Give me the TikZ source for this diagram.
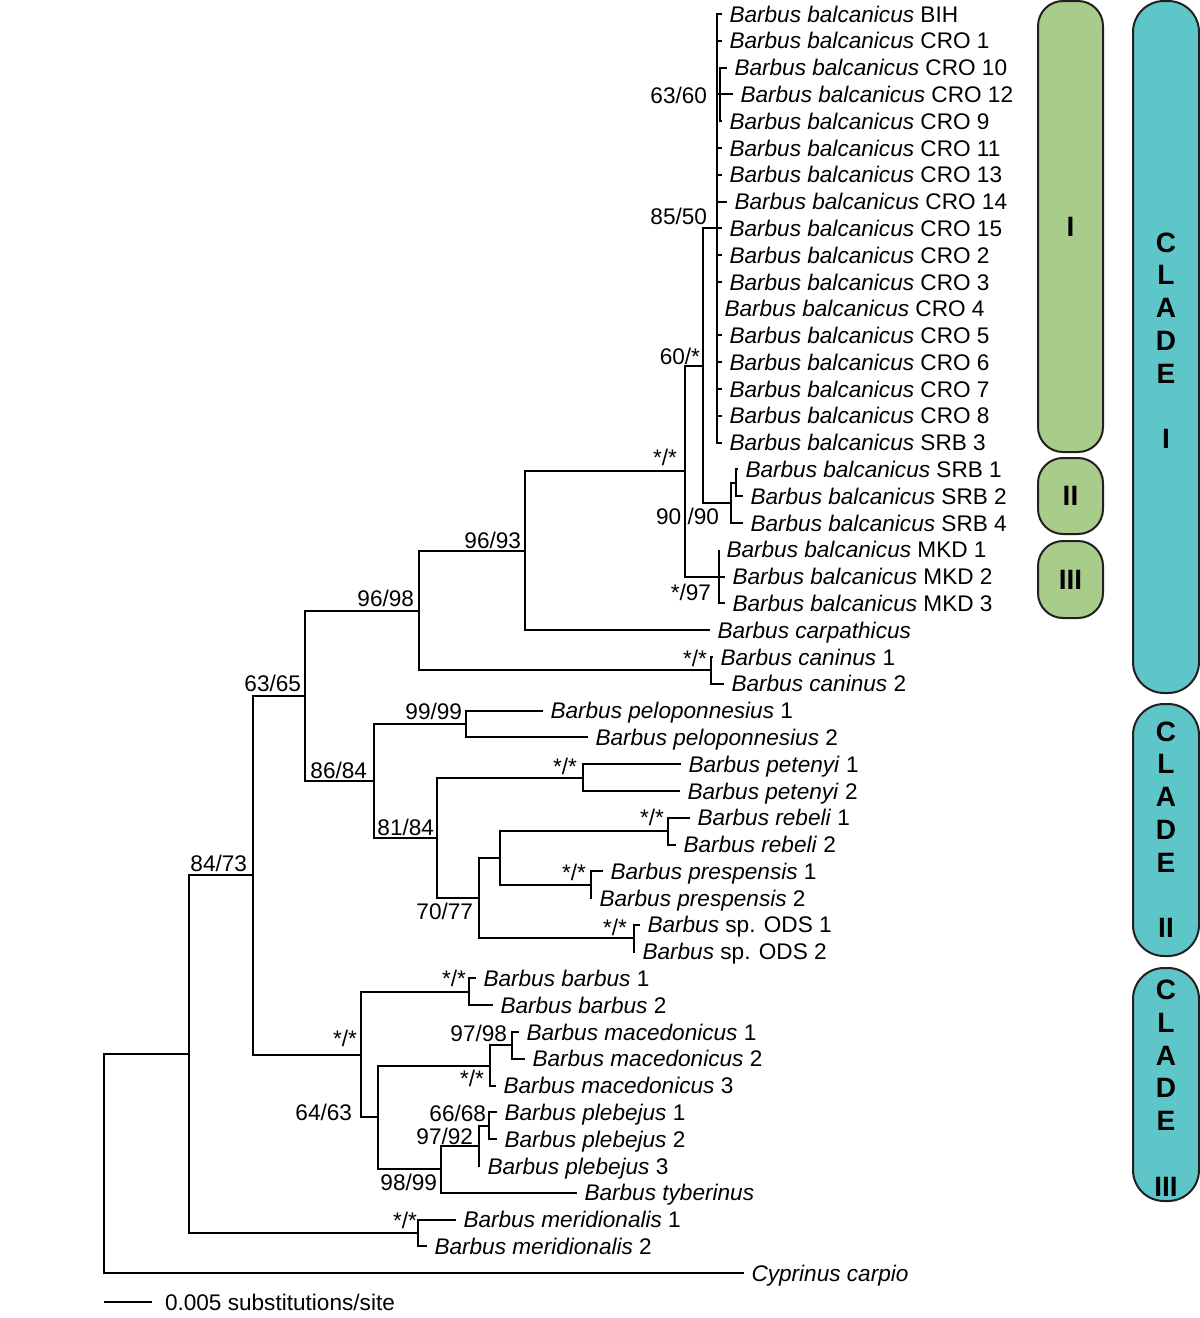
\documentclass[tikz,border=0pt]{standalone}
\usepackage{fontspec}
\setmainfont{Liberation Sans}
\usepackage{tikz}
\definecolor{subgreen}{RGB}{168,205,139}
\definecolor{cladeteal}{RGB}{94,197,200}
\definecolor{boxline}{RGB}{35,31,32}
\newcommand{\Bsp}[1]{\textit{Barbus #1}}
\tikzset{every picture/.style={line width=2pt},
leaf/.style={anchor=west,inner xsep=6.5pt,inner ysep=0pt,text height=16.2pt,text depth=0pt,font=\fontsize{22.6}{27}\selectfont},
supp/.style={anchor=east,inner sep=0pt,text height=16.2pt,text depth=0pt,font=\fontsize{22.6}{27}\selectfont},
subbox/.style={draw=boxline,fill=subgreen,rounded corners=25pt,minimum width=65pt,line width=2pt,font=\fontsize{28}{32.75}\selectfont\bfseries},
cladebox/.style={draw=boxline,fill=cladeteal,rounded corners=31pt,minimum width=66pt,line width=2pt},
cladetext/.style={align=center,inner sep=0pt,font=\fontsize{28}{32.75}\selectfont\bfseries}}

\begin{document}
\begin{tikzpicture}[x=1pt,y=-1pt]
\useasboundingbox (0,0) rectangle (1200,1318);
\foreach \i/\tx/\txt in {0/722/{\Bsp{balcanicus} BIH},1/722/{\Bsp{balcanicus} CRO 1},
2/727/{\Bsp{balcanicus} CRO 10},3/733/{\Bsp{balcanicus} CRO 12},4/722/{\Bsp{balcanicus} CRO 9},
5/722/{\Bsp{balcanicus} CRO 11},6/722/{\Bsp{balcanicus} CRO 13},7/727/{\Bsp{balcanicus} CRO 14},
8/722/{\Bsp{balcanicus} CRO 15},9/722/{\Bsp{balcanicus} CRO 2},10/722/{\Bsp{balcanicus} CRO 3},
11/717/{\Bsp{balcanicus} CRO 4},12/722/{\Bsp{balcanicus} CRO 5},13/722/{\Bsp{balcanicus} CRO 6},
14/722/{\Bsp{balcanicus} CRO 7},15/722/{\Bsp{balcanicus} CRO 8},16/722/{\Bsp{balcanicus} SRB 3},
17/738/{\Bsp{balcanicus} SRB 1},18/743/{\Bsp{balcanicus} SRB 2},19/743/{\Bsp{balcanicus} SRB 4},
20/719/{\Bsp{balcanicus} MKD 1},21/725/{\Bsp{balcanicus} MKD 2},22/725/{\Bsp{balcanicus} MKD 3},
23/710/{\Bsp{carpathicus}},24/713/{\Bsp{caninus} 1},25/724/{\Bsp{caninus} 2},
26/543/{\Bsp{peloponnesius} 1},27/588/{\Bsp{peloponnesius} 2},
28/681/{\Bsp{petenyi} 1},29/680/{\Bsp{petenyi} 2},30/690/{\Bsp{rebeli} 1},31/676/{\Bsp{rebeli} 2},
32/603/{\Bsp{prespensis} 1},33/592/{\Bsp{prespensis} 2},
34/640/{\textit{Barbus} sp. ODS 1},35/635/{\textit{Barbus} sp. ODS 2},
36/476/{\Bsp{barbus} 1},37/493/{\Bsp{barbus} 2},
38/519/{\Bsp{macedonicus} 1},39/525/{\Bsp{macedonicus} 2},40/496/{\Bsp{macedonicus} 3},
41/497/{\Bsp{plebejus} 1},42/497/{\Bsp{plebejus} 2},43/480/{\Bsp{plebejus} 3},
44/577/{\Bsp{tyberinus}},45/456/{\Bsp{meridionalis} 1},46/427/{\Bsp{meridionalis} 2},
47/744/{\textit{Cyprinus carpio}}}
\node[leaf] (l\i) at (\tx,{14+26.79*\i}) {\txt};

\coordinate (nR) at (104,1163.6);
\coordinate (nA) at (189,1054.1);
\coordinate (nB) at (253,875.15);
\coordinate (nC) at (305,695.7);
\coordinate (nE) at (419,610.5);
\coordinate (nG) at (525,550.65);
\coordinate (nH) at (685,471.1);
\coordinate (nI) at (703,365.6);
\coordinate (nBal) at (717,228.3);
\coordinate (nCRO) at (720,94.4);
\coordinate (nSRB) at (731,502.9);
\coordinate (nSRBa) at (736,482.8);
\coordinate (nMKD) at (719,576.6);
\coordinate (nCan) at (711,670.4);
\coordinate (nF) at (374,780.85);
\coordinate (nPel) at (466,723.9);
\coordinate (nJ) at (437,837.8);
\coordinate (nPet) at (583,777.5);
\coordinate (nK) at (479,898.1);
\coordinate (nL) at (500,857.9);
\coordinate (nReb) at (668,831.1);
\coordinate (nPre) at (591,884.7);
\coordinate (nODS) at (634,938.3);
\coordinate (nD) at (361,1054.6);
\coordinate (nBar) at (469,991.8);
\coordinate (nM) at (378,1117.4);
\coordinate (nMac) at (490,1065.5);
\coordinate (nMacb) at (512,1045.4);
\coordinate (nN) at (441,1169.35);
\coordinate (nPle) at (479,1145.9);
\coordinate (nPleb) at (489,1125.8);
\coordinate (nMer) at (418,1233);

\foreach \p/\c in {nR/nA,nR/l47.west,nA/nB,nA/nMer,nB/nC,nB/nD,nC/nE,nC/nF,
nE/nG,nE/nCan,nG/nH,nG/l23.west,nH/nI,nH/nMKD,nI/nBal,nI/nSRB,nBal/nCRO,
nCRO/l2.west,nCRO/l3.west,nCRO/l4.west,nSRB/nSRBa,nSRB/l19.west,nSRBa/l17.west,nSRBa/l18.west,
nMKD/l20.west,nMKD/l21.west,nMKD/l22.west,nCan/l24.west,nCan/l25.west,
nF/nPel,nF/nJ,nPel/l26.west,nPel/l27.west,nJ/nPet,nJ/nK,nPet/l28.west,nPet/l29.west,
nK/nL,nK/nODS,nL/nReb,nL/nPre,nReb/l30.west,nReb/l31.west,nPre/l32.west,nPre/l33.west,
nODS/l34.west,nODS/l35.west,nD/nBar,nD/nM,nBar/l36.west,nBar/l37.west,
nM/nMac,nM/nN,nMac/nMacb,nMac/l40.west,nMacb/l38.west,nMacb/l39.west,
nN/nPle,nN/l44.west,nPle/nPleb,nPle/l43.west,nPleb/l41.west,nPleb/l42.west,
nMer/l45.west,nMer/l46.west}
\draw (\p) |- (\c);
\foreach \i in {0,1,5,6,...,16}
\draw (nBal) |- (l\i.west);

\foreach \x/\y/\s [count=\k] in {708/95/{63/60},708/216/{85/50},701/356/{60/*},678/457/{*/*},
720/516/{90 /90},712/592/{*/97},522/540/{96/93},415/598/{96/98},302/683/{63/65},708/658/{*/*},
463/711/{99/99},368/770/{86/84},578/766/{*/*},435/827/{81/84},665/817/{*/*},587/872/{*/*},
474/911/{70/77},628/927/{*/*},248/863/{84/73},467/978/{*/*},358/1038/{*/*},508/1033/{97/98},
485/1078/{*/*},353/1112/{64/63},487/1113/{66/68},474/1136/{97/92},438/1182/{98/99},418/1220/{*/*}}
\node[supp] (s\k) at (\x,\y) {\s};

\coordinate (sb0) at (104,1302);
\coordinate (sb1) at (152,1302);
\draw (sb0) -- (sb1);
\node[leaf,inner xsep=0pt] (sbl) at (164,1302) {0.005 substitutions/site};

\node[subbox,minimum height=451pt] (gI) at (1070.5,226.5) {I};
\node[subbox,minimum height=76pt] (gII) at (1070.5,496) {II};
\node[subbox,minimum height=77pt] (gIII) at (1070.5,579.5) {III};
\node[cladebox,minimum height=692pt] (cI) at (1166,347) {};
\node[cladebox,minimum height=252pt] (cII) at (1166,830) {};
\node[cladebox,minimum height=233pt] (cIII) at (1166,1084.5) {};
\node[cladetext] (tI) at (1166,340.5) {C\\L\\A\\D\\E\\[32.75pt]I};
\node[cladetext] (tII) at (1166,829.5) {C\\L\\A\\D\\E\\[32.75pt]II};
\node[cladetext] (tIII) at (1166,1088) {C\\L\\A\\D\\E\\[32.75pt]III};
\end{tikzpicture}
\end{document}
